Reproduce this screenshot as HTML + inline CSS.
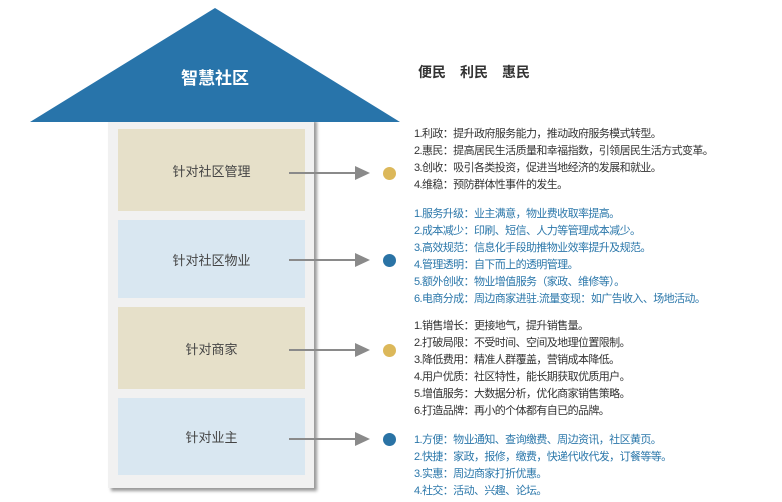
<!DOCTYPE html>
<html><head><meta charset="utf-8"><style>
body{margin:0;width:782px;height:502px;background:#fff;position:relative;overflow:hidden;font-family:"Liberation Sans","Noto Sans CJK SC",sans-serif}
.a{position:absolute}
.box{position:absolute;left:118px;width:187px;display:flex;align-items:center;justify-content:center;font-size:13px;color:#444}
.t{position:absolute;left:414px;font-size:11px;letter-spacing:-0.6px;line-height:17px;white-space:nowrap}
.dk{color:#333}.bl{color:#2b77aa}
.ln{position:absolute;left:289px;width:68px;height:2px;background:#8a8a8a}
.ah{position:absolute;left:355px;width:0;height:0;border-left:15px solid #8a8a8a;border-top:7px solid transparent;border-bottom:7px solid transparent}
.dot{position:absolute;left:383px;width:13px;height:13px;border-radius:50%}
</style></head><body>
<div class="a" style="left:108px;top:118px;width:206px;height:370px;background:#f1f1f1;box-shadow:3px 3px 3px #999"></div>
<svg class="a" style="left:0;top:0" width="782" height="130"><polygon points="215,8 30,122 400,122" fill="#2874aa"/></svg>
<div class="a" style="left:160px;top:64px;width:110px;text-align:center;color:#fff;font-size:17px;font-weight:bold">智慧社区</div>
<div class="a" style="left:418px;top:62px;font-size:14px;color:#333;font-weight:bold">便民<span style="margin-left:14px">利民</span><span style="margin-left:14px">惠民</span></div>
<div class="box" style="top:129px;height:82px;background:#e6e0c9">针对社区管理</div>
<div class="box" style="top:220px;height:78px;background:#d9e7f1">针对社区物业</div>
<div class="box" style="top:307px;height:82px;background:#e6e0c9">针对商家</div>
<div class="box" style="top:398px;height:77px;background:#d9e7f1">针对业主</div>
<div class="ln" style="top:172px"></div><div class="ah" style="top:166px"></div><div class="dot" style="top:167px;background:#dcb85a"></div>
<div class="ln" style="top:259px"></div><div class="ah" style="top:253px"></div><div class="dot" style="top:254px;background:#2a73a5"></div>
<div class="ln" style="top:349px"></div><div class="ah" style="top:343px"></div><div class="dot" style="top:344px;background:#dcb85a"></div>
<div class="ln" style="top:438px"></div><div class="ah" style="top:432px"></div><div class="dot" style="top:433px;background:#2a73a5"></div>
<div class="t dk" style="top:126px">1.利政：提升政府服务能力，推动政府服务模式转型。<br>2.惠民：提高居民生活质量和幸福指数，引领居民生活方式变革。<br>3.创收：吸引各类投资，促进当地经济的发展和就业。<br>4.维稳：预防群体性事件的发生。</div>
<div class="t bl" style="top:206px">1.服务升级：业主满意，物业费收取率提高。<br>2.成本减少：印刷、短信、人力等管理成本减少。<br>3.高效规范：信息化手段助推物业效率提升及规范。<br>4.管理透明：自下而上的透明管理。<br>5.额外创收：物业增值服务（家政、维修等）。<br>6.电商分成：周边商家进驻.流量变现：如广告收入、场地活动。</div>
<div class="t dk" style="top:318px">1.销售增长：更接地气，提升销售量。<br>2.打破局限：不受时间、空间及地理位置限制。<br>3.降低费用：精准人群覆盖，营销成本降低。<br>4.用户优质：社区特性，能长期获取优质用户。<br>5.增值服务：大数据分析，优化商家销售策略。<br>6.打造品牌：再小的个体都有自已的品牌。</div>
<div class="t bl" style="top:432px">1.方便：物业通知、查询缴费、周边资讯，社区黄页。<br>2.快捷：家政，报修，缴费，快递代收代发，订餐等等。<br>3.实惠：周边商家打折优惠。<br>4.社交：活动、兴趣、论坛。</div>
</body></html>
